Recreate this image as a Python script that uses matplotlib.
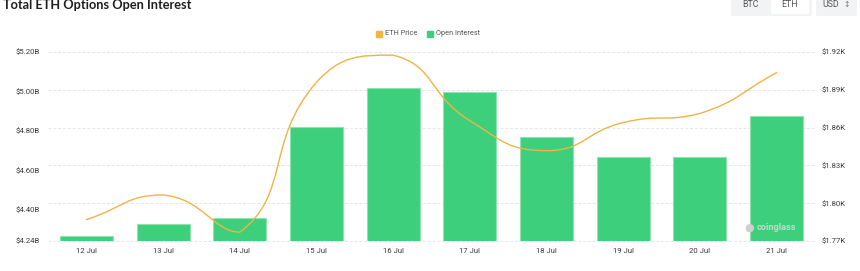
import matplotlib
matplotlib.use("Agg")
import matplotlib.pyplot as plt
from matplotlib.path import Path
from matplotlib.patches import PathPatch, FancyBboxPatch, Rectangle
from matplotlib.transforms import blended_transform_factory
import numpy as np

# ---- data ----
dates = ["12 Jul", "13 Jul", "14 Jul", "15 Jul", "16 Jul", "17 Jul", "18 Jul", "19 Jul", "20 Jul", "21 Jul"]
open_interest_b = [4.267, 4.326, 4.355, 4.819, 5.016, 4.995, 4.770, 4.668, 4.668, 4.875]
eth_price_k = [1.787, 1.8065, 1.777, 1.896, 1.9175, 1.8655, 1.8417, 1.8640, 1.8712, 1.9036]
left_ticks = [4.24, 4.40, 4.60, 4.80, 5.00, 5.20]
right_ticks = [1.77, 1.80, 1.83, 1.86, 1.89, 1.92]

BAR_C = "#3ecf7c"
BAR_EDGE = "#8ee3b1"
LINE_C = "#EDB446"
TXT = "#3a3a3a"
W, H = 860, 271

fig = plt.figure(figsize=(W / 100, H / 100), dpi=100)
plt.rcParams["font.family"] = ["Roboto", "DejaVu Sans"]

def fx(px):
    return px / W

def fy(py):
    return 1 - py / H

ax = fig.add_axes([fx(48), fy(241), fx(815) - fx(48), fy(52) - fy(241)])
ax2 = ax.twinx()

x = np.arange(len(dates))
ax.bar(x, [v - left_ticks[0] for v in open_interest_b], bottom=left_ticks[0], width=0.69,
       color=BAR_C, edgecolor=BAR_EDGE, linewidth=0.8, zorder=3)
ax.set_xlim(-0.5, len(dates) - 0.5)
ax.set_ylim(left_ticks[0], left_ticks[-1])
ax.set_yticks(left_ticks)
ax.set_yticklabels([f"${v:.2f}B" for v in left_ticks])
ax.set_xticks(x)
ax.set_xticklabels(dates)

ax2.set_ylim(right_ticks[0], right_ticks[-1])
ax2.set_yticks(right_ticks)
ax2.set_yticklabels([f"${v:.2f}K" for v in right_ticks])

# gridlines follow right-axis splits, drawn under the bars
grid_tr = blended_transform_factory(ax.transAxes, ax2.transData)
for v in right_ticks:
    ax.plot([0, 1], [v, v], color="#e4e6ea", lw=0.7, ls=(0, (3, 2)), zorder=0,
            transform=grid_tr, clip_on=False)

for a in (ax, ax2):
    for s in a.spines.values():
        s.set_visible(False)
    a.tick_params(length=0, labelsize=5.6, colors=TXT)
ax.tick_params(axis="y", pad=6)
ax2.tick_params(axis="y", pad=5)
ax.tick_params(axis="x", pad=5)

# smooth line (echarts-like bezier with clamped control points)
fig.canvas.draw()
pts = ax2.transData.transform(np.column_stack([x, eth_price_k]))
smooth = 0.5
n = len(pts)
verts = [tuple(pts[0])]
codes = [Path.MOVETO]
cps_out = []
cps_in = []
for i in range(n):
    p = pts[i]
    prev = pts[i - 1] if i > 0 else p
    nxt = pts[i + 1] if i < n - 1 else p
    v = nxt - prev
    d0 = np.hypot(*(p - prev))
    d1 = np.hypot(*(nxt - p))
    r = d1 / (d0 + d1) if (d0 + d1) > 0 else 0.5
    c_out = p + v * smooth * r
    c_in = p - v * smooth * (1 - r)
    c_out = np.clip(c_out, np.minimum(p, nxt), np.maximum(p, nxt))
    c_in = np.clip(c_in, np.minimum(p, prev), np.maximum(p, prev))
    cps_out.append(c_out)
    cps_in.append(c_in)
for i in range(n - 1):
    verts += [tuple(cps_out[i]), tuple(cps_in[i + 1]), tuple(pts[i + 1])]
    codes += [Path.CURVE4] * 3
inv = ax2.transData.inverted()
verts_data = inv.transform(np.array(verts))
path = Path(verts_data, codes)
ax2.add_patch(PathPatch(path, facecolor="none", edgecolor=LINE_C, lw=1.0, zorder=5,
                        capstyle="round", joinstyle="round"))

# title
fig.text(fx(3), fy(5), "Total ETH Options Open Interest", fontsize=9.2, fontweight="bold",
         color="#1f1f1f", ha="left", va="center", family=["Lato", "DejaVu Sans"])

# legend
fig.patches.append(Rectangle((fx(376), fy(36.5)), fx(6), 6 / H,
                             transform=fig.transFigure, color=LINE_C))
fig.text(fx(385), fy(33.5), "ETH Price", fontsize=5.3, color="#555555", ha="left", va="center")
fig.patches.append(Rectangle((fx(427), fy(36.5)), fx(6), 6 / H,
                             transform=fig.transFigure, color=BAR_C))
fig.text(fx(436), fy(33.5), "Open Interest", fontsize=5.3, color="#555555", ha="left", va="center")

# top-right toggle buttons
fig.patches.append(FancyBboxPatch((fx(731), fy(16)), fx(81), 22 / H,
                                  boxstyle="round,pad=0,rounding_size=0.004",
                                  transform=fig.transFigure, facecolor="#f1f3f5", edgecolor="none"))
fig.patches.append(FancyBboxPatch((fx(771), fy(14)), fx(38), 20 / H,
                                  boxstyle="round,pad=0,rounding_size=0.003",
                                  transform=fig.transFigure, facecolor="#ffffff", edgecolor="none"))
fig.text(fx(750), fy(4.5), "BTC", fontsize=6.3, color="#555555", ha="center", va="center")
fig.text(fx(790), fy(4.5), "ETH", fontsize=6.3, color="#555555", ha="center", va="center")
fig.patches.append(FancyBboxPatch((fx(816), fy(16)), fx(41), 22 / H,
                                  boxstyle="round,pad=0,rounding_size=0.004",
                                  transform=fig.transFigure, facecolor="#f1f3f5", edgecolor="none"))
fig.text(fx(822), fy(4.5), "USD", fontsize=6.3, color="#555555", ha="left", va="center")
fig.text(fx(843), fy(4.5), "\u2195", fontsize=5.5, color="#777777", ha="left", va="center",
         family=["DejaVu Sans"])

# watermark
fig.text(fx(749), fy(228), "\u25cf", fontsize=8, color="#cfcfcf", ha="center", va="center",
         family=["DejaVu Sans"], zorder=10)
fig.text(fx(757), fy(228), "coinglass", fontsize=6.6, fontweight="bold", color="#d9dcd9",
         ha="left", va="center", zorder=10, alpha=0.85)

fig.savefig("out.png", dpi=100)
